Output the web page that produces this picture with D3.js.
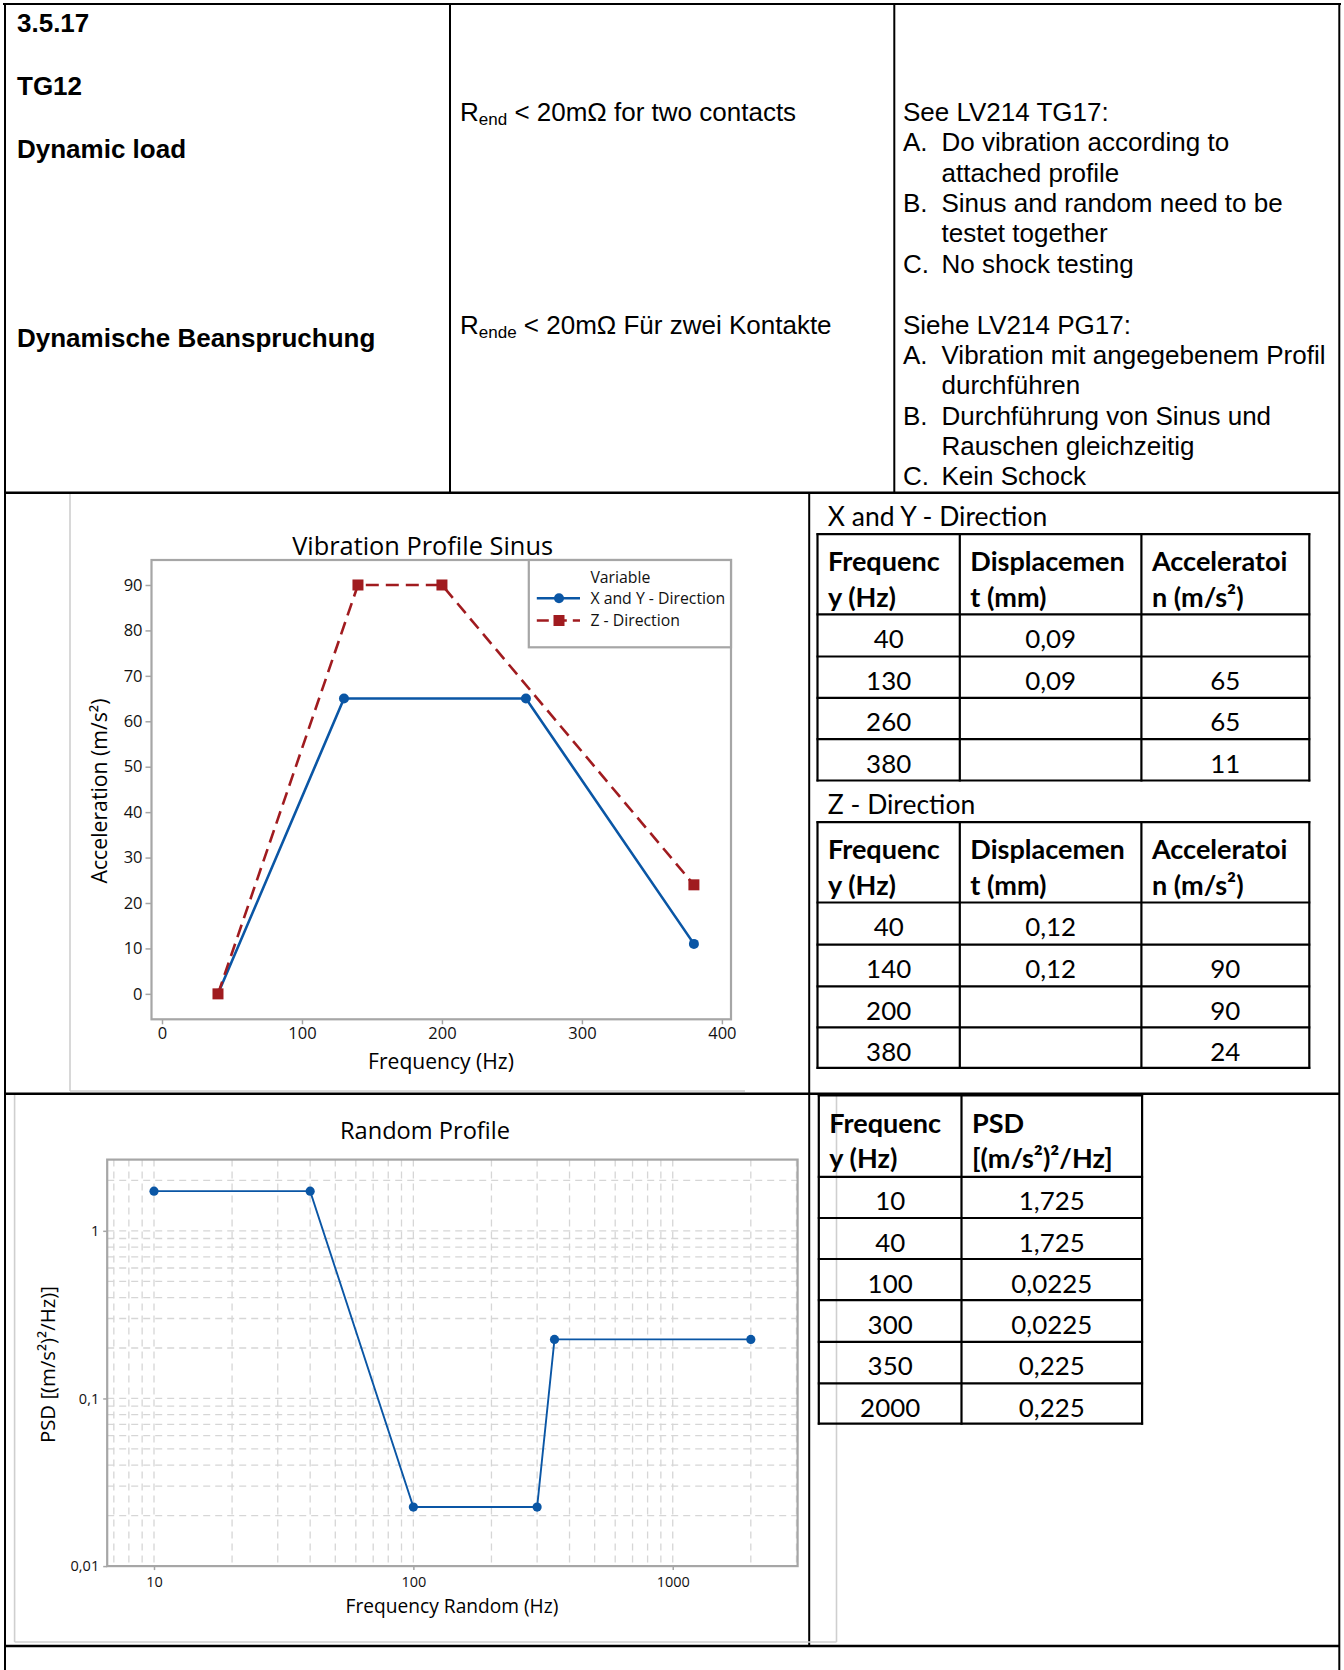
<!DOCTYPE html>
<html><head><meta charset="utf-8">
<script src="https://cdn.jsdelivr.net/npm/d3@7"></script>
<style>html,body{margin:0;padding:0;background:#fff}svg{display:block}</style>
</head><body>
<script>
// ---------- DATA ----------
const sinusFreqXY = [40, 130, 260, 380];
const sinusAccXY  = [0, 65, 65, 11];
const sinusFreqZ  = [40, 140, 200, 380];
const sinusAccZ   = [0, 90, 90, 24];
const sinusXTicks = [0, 100, 200, 300, 400];
const sinusYTicks = [0, 10, 20, 30, 40, 50, 60, 70, 80, 90];
const sinusSeries = ["X and Y - Direction", "Z - Direction"];

const randomFreq = [10, 40, 100, 300, 350, 2000];
const randomPSD  = [1.725, 1.725, 0.0225, 0.0225, 0.225, 0.225];
const randomXTicks = [10, 100, 1000];
const randomYTicks = [0.01, 0.1, 1];
const randomYTickLabels = ["0,01", "0,1", "1"];

const tableHeadXY = [["Frequenc", "y (Hz)"], ["Displacemen", "t (mm)"], ["Acceleratoi", "n (m/s²)"]];
const xyFreq = ["40", "130", "260", "380"];
const xyDisp = ["0,09", "0,09", "", ""];
const xyAcc  = ["", "65", "65", "11"];
const zFreq = ["40", "140", "200", "380"];
const zDisp = ["0,12", "0,12", "", ""];
const zAcc  = ["", "90", "90", "24"];
const tableHeadPSD = [["Frequenc", "y (Hz)"], ["PSD", "[(m/s²)²/Hz]"]];
const psdFreq = ["10", "40", "100", "300", "350", "2000"];
const psdVal  = ["1,725", "1,725", "0,0225", "0,0225", "0,225", "0,225"];

// ---------- SETUP ----------
const W = 1344, H = 1670;
const svg = d3.select("body").append("svg").attr("width", W).attr("height", H);
const DOC = "'Liberation Sans', Arial, sans-serif";
const CH = "'Open Sans', 'Noto Sans', sans-serif";
const TB = "Lato, 'Open Sans', sans-serif";
const BLUE = "#0a56a5", RED = "#a01b1f", FRAME = "#a6a6a6";

function fitSize(family, weight, str, target) {
  const t = svg.append("text").attr("font-family", family).attr("font-weight", weight)
    .attr("font-size", 100).text(str);
  const w = t.node().getComputedTextLength();
  t.remove();
  return 100 * target / w;
}
function line(x1, y1, x2, y2, w, c) {
  svg.append("line").attr("x1", x1).attr("y1", y1).attr("x2", x2).attr("y2", y2)
    .attr("stroke", c || "#000").attr("stroke-width", w || 2);
}

// ---------- DOCUMENT GRID ----------
line(3, 4, 1341, 4, 2);
line(5, 3, 5, 1670, 2);
line(1339.3, 3, 1339.3, 1670, 2);
line(4, 492.8, 1340, 492.8, 2.4);
line(450, 4, 450, 492.8, 2);
line(894.3, 4, 894.3, 492.8, 2);
line(809.2, 492.8, 809.2, 1646, 2);
line(4, 1093.8, 1340, 1093.8, 2.4);
line(4, 1646, 1340, 1646, 2.4);

// ---------- ROW 1 TEXT ----------
const docG = svg.append("g").attr("font-family", DOC).attr("font-size", 26).attr("fill", "#000");
[["3.5.17", 32], ["TG12", 95], ["Dynamic load", 158], ["Dynamische Beanspruchung", 347]].forEach(d => {
  docG.append("text").attr("x", 17).attr("y", d[1]).attr("font-weight", "bold").text(d[0]);
});
function subText(x, y, sub, rest) {
  const t = docG.append("text").attr("x", x).attr("y", y);
  t.append("tspan").text("R");
  t.append("tspan").attr("font-size", 17).attr("dy", 4).text(sub);
  t.append("tspan").attr("dy", -4).text(" < 20mΩ " + rest);
}
subText(460, 121, "end", "for two contacts");
subText(460, 334, "ende", "Für zwei Kontakte");

const col3 = [
  ["", "See LV214 TG17:", 121],
  ["A.", "Do vibration according to", 151.4],
  ["", "attached profile", 181.7, true],
  ["B.", "Sinus and random need to be", 212],
  ["", "testet together", 242.4, true],
  ["C.", "No shock testing", 272.8],
  ["", "Siehe LV214 PG17:", 333.5],
  ["A.", "Vibration mit angegebenem Profil", 363.9],
  ["", "durchführen", 394.2, true],
  ["B.", "Durchführung von Sinus und", 424.6],
  ["", "Rauschen gleichzeitig", 454.9, true],
  ["C.", "Kein Schock", 485.3]
];
col3.forEach(d => {
  if (d[0]) {
    docG.append("text").attr("x", 903).attr("y", d[2]).text(d[0]);
    docG.append("text").attr("x", 941.5).attr("y", d[2]).text(d[1]);
  } else {
    docG.append("text").attr("x", d[3] ? 941.5 : 903).attr("y", d[2]).text(d[1]);
  }
});

// ---------- CHART 1: SINUS ----------
line(70, 494, 70, 1091, 1.6, "#cfcfcf");
line(70, 1091, 745, 1091, 1.6, "#cfcfcf");

const p1 = {l: 151.5, r: 731, t: 560, b: 1019.3};
const x1 = d3.scaleLinear().domain([-7.5, 406.5]).range([p1.l, p1.r]);
const y1 = d3.scaleLinear().domain([-5.6, 95.5]).range([p1.b, p1.t]);
const c1 = svg.append("g");

const yAx1 = c1.append("g").attr("transform", `translate(${p1.l},0)`)
  .call(d3.axisLeft(y1).tickValues(sinusYTicks).tickSize(6).tickPadding(3));
const xAx1 = c1.append("g").attr("transform", `translate(0,${p1.b})`)
  .call(d3.axisBottom(x1).tickValues(sinusXTicks).tickSize(5).tickPadding(3));
[yAx1, xAx1].forEach(a => {
  a.select(".domain").remove();
  a.selectAll("line").attr("stroke", FRAME).attr("stroke-width", 1.5);
  a.selectAll("text").attr("font-family", CH).attr("font-size", 16.5).attr("fill", "#111");
});
c1.append("rect").attr("x", p1.l).attr("y", p1.t).attr("width", p1.r - p1.l).attr("height", p1.b - p1.t)
  .attr("fill", "none").attr("stroke", FRAME).attr("stroke-width", 2.2);

const ln = d3.line().x(d => x1(d[0])).y(d => y1(d[1]));
const xyPts = sinusFreqXY.map((f, i) => [f, sinusAccXY[i]]);
const zPts = sinusFreqZ.map((f, i) => [f, sinusAccZ[i]]);
c1.append("path").attr("d", ln(xyPts)).attr("fill", "none").attr("stroke", BLUE).attr("stroke-width", 2.6);
c1.selectAll(".cxy").data(xyPts).join("circle").attr("cx", d => x1(d[0])).attr("cy", d => y1(d[1]))
  .attr("r", 5).attr("fill", BLUE);
c1.append("path").attr("d", ln(zPts)).attr("fill", "none").attr("stroke", RED).attr("stroke-width", 2.6)
  .attr("stroke-dasharray", "13,7");
c1.selectAll(".sz").data(zPts).join("rect").attr("x", d => x1(d[0]) - 5.5).attr("y", d => y1(d[1]) - 5.5)
  .attr("width", 11).attr("height", 11).attr("fill", RED);

// legend
c1.append("rect").attr("x", 528.8).attr("y", p1.t).attr("width", p1.r - 528.8).attr("height", 647.3 - p1.t)
  .attr("fill", "#fff").attr("stroke", FRAME).attr("stroke-width", 2.2);
const legS = fitSize(CH, "normal", sinusSeries[0], 135);
c1.append("text").attr("x", 590.4).attr("y", 583).attr("font-family", CH).attr("font-size", legS).attr("fill", "#111").text("Variable");
[[598.3, BLUE, null, "c"], [620.5, RED, "12,6", "s"]].forEach((d, i) => {
  c1.append("line").attr("x1", 536.8).attr("x2", 580).attr("y1", d[0]).attr("y2", d[0])
    .attr("stroke", d[1]).attr("stroke-width", 2.6).attr("stroke-dasharray", d[2]);
  if (d[3] === "c") c1.append("circle").attr("cx", 559).attr("cy", d[0]).attr("r", 5).attr("fill", d[1]);
  else c1.append("rect").attr("x", 553.5).attr("y", d[0] - 5.5).attr("width", 11).attr("height", 11).attr("fill", d[1]);
  c1.append("text").attr("x", 590.4).attr("y", d[0] + 5.6).attr("font-family", CH).attr("font-size", legS)
    .attr("fill", "#111").text(sinusSeries[i]);
});

// titles
c1.append("text").attr("x", 422.6).attr("y", 555).attr("text-anchor", "middle").attr("font-family", CH)
  .attr("font-size", fitSize(CH, "normal", "Vibration Profile Sinus", 261)).attr("fill", "#000").text("Vibration Profile Sinus");
c1.append("text").attr("x", 441).attr("y", 1069).attr("text-anchor", "middle").attr("font-family", CH)
  .attr("font-size", fitSize(CH, "normal", "Frequency (Hz)", 146)).attr("fill", "#000").text("Frequency (Hz)");
c1.append("text").attr("transform", "translate(106.5,791) rotate(-90)").attr("text-anchor", "middle").attr("font-family", CH)
  .attr("font-size", fitSize(CH, "normal", "Acceleration (m/s²)", 185)).attr("fill", "#000").text("Acceleration (m/s²)");

// ---------- CHART 2: RANDOM ----------
line(14.6, 1095, 14.6, 1642, 1.6, "#cfcfcf");
line(14.6, 1642, 836.5, 1642, 1.6, "#cfcfcf");
line(836.5, 1095, 836.5, 1642, 1.6, "#cfcfcf");

const p2 = {l: 107.2, r: 797.6, t: 1159.6, b: 1566.1};
const x2 = d3.scaleLog().domain([6.6, 3030]).range([p2.l, p2.r]);
const y2 = d3.scaleLog().domain([0.01, 2.66]).range([p2.b, p2.t]);
const c2 = svg.append("g");

const gx = x2.ticks().filter(v => v > 6.6 && v < 3030);
const gy = y2.ticks().filter(v => v > 0.01 && v < 2.66);
c2.append("g").selectAll("line").data(gx).join("line")
  .attr("x1", d => x2(d)).attr("x2", d => x2(d)).attr("y1", p2.t).attr("y2", p2.b)
  .attr("stroke", "#d6d6d6").attr("stroke-width", 1.3).attr("stroke-dasharray", "7,5");
c2.append("g").selectAll("line").data(gy).join("line")
  .attr("y1", d => y2(d)).attr("y2", d => y2(d)).attr("x1", p2.l).attr("x2", p2.r)
  .attr("stroke", "#d6d6d6").attr("stroke-width", 1.3).attr("stroke-dasharray", "7,5");

const yAx2 = c2.append("g").attr("transform", `translate(${p2.l},0)`)
  .call(d3.axisLeft(y2).tickValues(randomYTicks).tickFormat((d, i) => randomYTickLabels[i]).tickSize(4).tickPadding(4));
const xAx2 = c2.append("g").attr("transform", `translate(0,${p2.b})`)
  .call(d3.axisBottom(x2).tickValues(randomXTicks).tickFormat(d3.format("d")).tickSize(4).tickPadding(7));
[yAx2, xAx2].forEach(a => {
  a.select(".domain").remove();
  a.selectAll("line").attr("stroke", FRAME).attr("stroke-width", 1.5);
  a.selectAll("text").attr("font-family", CH).attr("font-size", 14.5).attr("fill", "#111");
});
c2.append("rect").attr("x", p2.l).attr("y", p2.t).attr("width", p2.r - p2.l).attr("height", p2.b - p2.t)
  .attr("fill", "none").attr("stroke", FRAME).attr("stroke-width", 2.2);

const ln2 = d3.line().x(d => x2(d[0])).y(d => y2(d[1]));
const rPts = randomFreq.map((f, i) => [f, randomPSD[i]]);
c2.append("path").attr("d", ln2(rPts)).attr("fill", "none").attr("stroke", BLUE).attr("stroke-width", 1.9);
c2.selectAll(".cr").data(rPts).join("circle").attr("cx", d => x2(d[0])).attr("cy", d => y2(d[1]))
  .attr("r", 4.6).attr("fill", BLUE);

c2.append("text").attr("x", 425).attr("y", 1139).attr("text-anchor", "middle").attr("font-family", CH)
  .attr("font-size", fitSize(CH, "normal", "Random Profile", 170)).attr("fill", "#000").text("Random Profile");
c2.append("text").attr("x", 452).attr("y", 1613).attr("text-anchor", "middle").attr("font-family", CH)
  .attr("font-size", fitSize(CH, "normal", "Frequency Random (Hz)", 213)).attr("fill", "#000").text("Frequency Random (Hz)");
c2.append("text").attr("transform", "translate(55,1364.6) rotate(-90)").attr("text-anchor", "middle").attr("font-family", CH)
  .attr("font-size", fitSize(CH, "normal", "PSD [(m/s²)²/Hz)]", 157)).attr("fill", "#000").text("PSD [(m/s²)²/Hz)]");

// ---------- TABLES ----------
const headS = fitSize(TB, "bold", "Displacemen", 154.6);
const dataS = fitSize(TB, "normal", "0,0225", 81);
const labS = fitSize(TB, "normal", "X and Y - Direction", 219.5);
const tg = svg.append("g");

function drawTable(colX, rowY, heads, cols) {
  colX.forEach(x => line(x, rowY[0] - 1, x, rowY[rowY.length - 1] + 1, 2.2));
  rowY.forEach(y => line(colX[0] - 1, y, colX[colX.length - 1] + 1, y, 2.2));
  heads.forEach((h, c) => {
    h.forEach((s, k) => {
      tg.append("text").attr("x", colX[c] + 10.5).attr("y", rowY[0] + (k === 0 ? 37 : 72.5))
        .attr("font-family", TB).attr("font-weight", "bold").attr("font-size", headS).text(s);
    });
  });
  cols.forEach((col, c) => {
    col.forEach((s, r) => {
      if (!s) return;
      tg.append("text").attr("x", (colX[c] + colX[c + 1]) / 2).attr("y", rowY[r + 1] + 33.5)
        .attr("text-anchor", "middle").attr("font-family", TB).attr("font-size", dataS).text(s);
    });
  });
}
tg.append("text").attr("x", 827.8).attr("y", 526).attr("font-family", TB).attr("font-size", labS).text("X and Y - Direction");
tg.append("text").attr("x", 827.8).attr("y", 813.8).attr("font-family", TB).attr("font-size", labS).text("Z - Direction");
drawTable([817.5, 959.8, 1141.4, 1309.3], [534.2, 614.4, 656.5, 697.8, 739.1, 780.5], tableHeadXY, [xyFreq, xyDisp, xyAcc]);
drawTable([817.5, 959.8, 1141.4, 1309.3], [822.2, 902.5, 944.6, 986.4, 1027.3, 1067.9], tableHeadXY, [zFreq, zDisp, zAcc]);
drawTable([818.8, 961.5, 1142.1], [1095.5, 1176.9, 1218, 1259, 1300.1, 1341.9, 1383.4, 1423.7], tableHeadPSD, [psdFreq, psdVal]);
</script>
</body></html>
